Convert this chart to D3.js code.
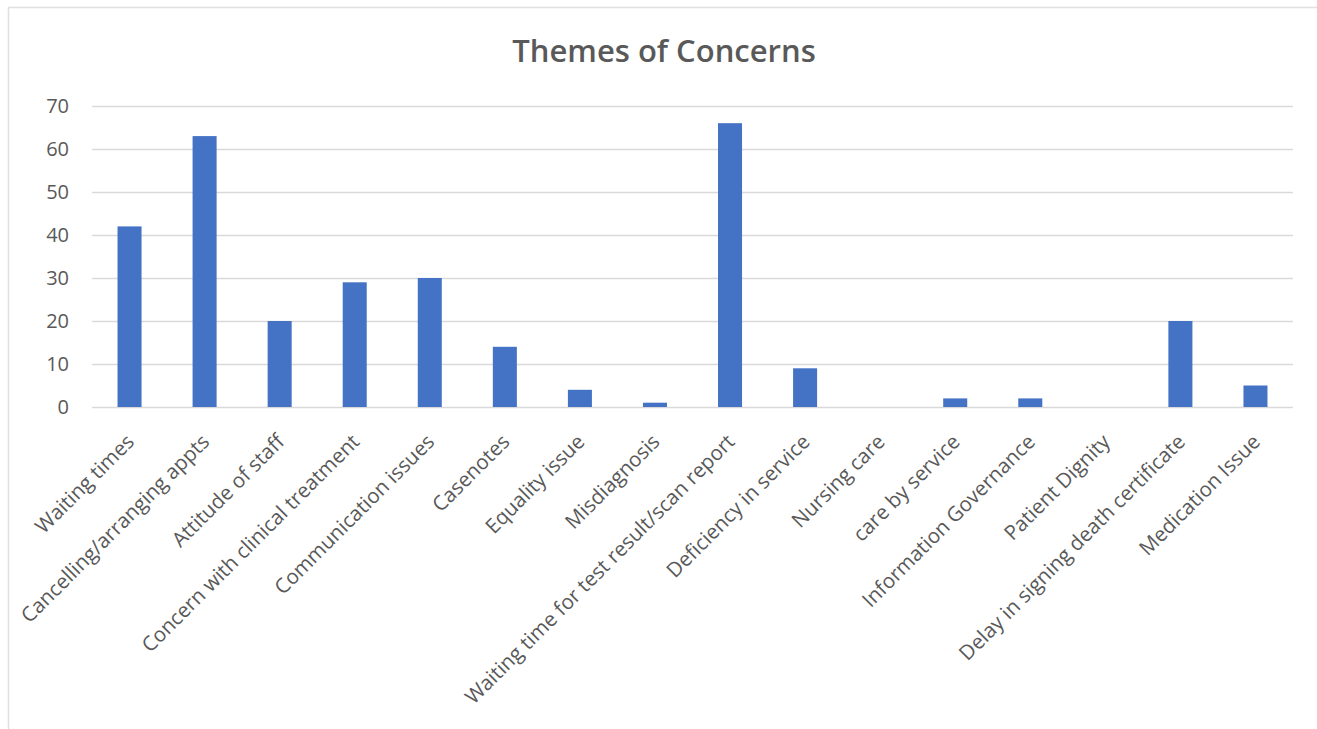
<!DOCTYPE html>
<html>
<head>
<meta charset="utf-8">
<script src="https://cdn.jsdelivr.net/npm/d3@7"></script>
<style>
  html, body { margin: 0; padding: 0; background: #fff; }
  svg { display: block; }
</style>
</head>
<body>
<svg id="chart" width="1317" height="729"></svg>
<script>
// Complaint themes and their counts
const categories = [
  "Waiting times",
  "Cancelling/arranging appts",
  "Attitude of staff",
  "Concern with clinical treatment",
  "Communication issues",
  "Casenotes",
  "Equality issue",
  "Misdiagnosis",
  "Waiting time for test result/scan report",
  "Deficiency in service",
  "Nursing care",
  "care by service",
  "Information Governance",
  "Patient Dignity",
  "Delay in signing death certificate",
  "Medication Issue"
];
const counts = [42, 63, 20, 29, 30, 14, 4, 1, 66, 9, 0, 2, 2, 0, 20, 5];
const yTicks = [0, 10, 20, 30, 40, 50, 60, 70];
const chartTitle = "Themes of Concerns";

const W = 1317, H = 729;
const margin = { left: 92, right: 24, top: 106, bottom: 322 };
const font = "'Open Sans', 'Noto Sans', sans-serif";
const textColor = "#595959";

const svg = d3.select("#chart");

// chart area frame: top and left edges
svg.append("line")
  .attr("x1", 8).attr("x2", W).attr("y1", 7.5).attr("y2", 7.5)
  .attr("stroke", "#e0e0e0").attr("stroke-width", 1.5);
svg.append("line")
  .attr("x1", 8.5).attr("x2", 8.5).attr("y1", 7).attr("y2", H)
  .attr("stroke", "#e0e0e0").attr("stroke-width", 1.5);

const x = d3.scaleBand()
  .domain(categories)
  .range([margin.left, W - margin.right])
  .paddingInner(0.68).paddingOuter(0.34);

const y = d3.scaleLinear()
  .domain([0, 70])
  .range([H - margin.bottom, margin.top]);

// horizontal gridlines
svg.append("g")
  .selectAll("line")
  .data(yTicks)
  .join("line")
  .attr("x1", margin.left).attr("x2", W - margin.right)
  .attr("y1", d => Math.round(y(d)) + 0.5).attr("y2", d => Math.round(y(d)) + 0.5)
  .attr("stroke", "#d9d9d9").attr("stroke-width", 1.5);

// y-axis labels
const yAxis = d3.axisLeft(y).tickValues(yTicks).tickSize(0).tickPadding(23);
const gy = svg.append("g")
  .attr("transform", `translate(${margin.left},0)`)
  .call(yAxis);
gy.select(".domain").remove();
gy.selectAll("text")
  .attr("fill", textColor)
  .style("font-family", font)
  .style("font-size", "20px");

// bars
svg.append("g")
  .selectAll("rect")
  .data(categories.map((c, i) => ({ c, v: counts[i] })))
  .join("rect")
  .attr("x", d => x(d.c))
  .attr("width", x.bandwidth())
  .attr("y", d => y(d.v))
  .attr("height", d => y(0) - y(d.v))
  .attr("fill", "#4472c4");

// x-axis labels, rotated
const xAxis = d3.axisBottom(x).tickSize(0).tickPadding(0);
const gx = svg.append("g")
  .attr("transform", `translate(0,${y(0)})`)
  .call(xAxis);
gx.select(".domain").remove();
gx.selectAll("text")
  .attr("fill", textColor)
  .style("font-family", font)
  .style("font-size", "20.5px")
  .attr("text-anchor", "end")
  .attr("y", 0)
  .attr("dy", 0)
  .attr("transform", "translate(6,36) rotate(-45)");

// title
svg.append("text")
  .attr("x", 664).attr("y", 62)
  .attr("text-anchor", "middle")
  .attr("fill", textColor)
  .style("font-family", font)
  .style("font-size", "31px")
  .style("font-weight", "600")
  .text(chartTitle);
</script>
</body>
</html>
